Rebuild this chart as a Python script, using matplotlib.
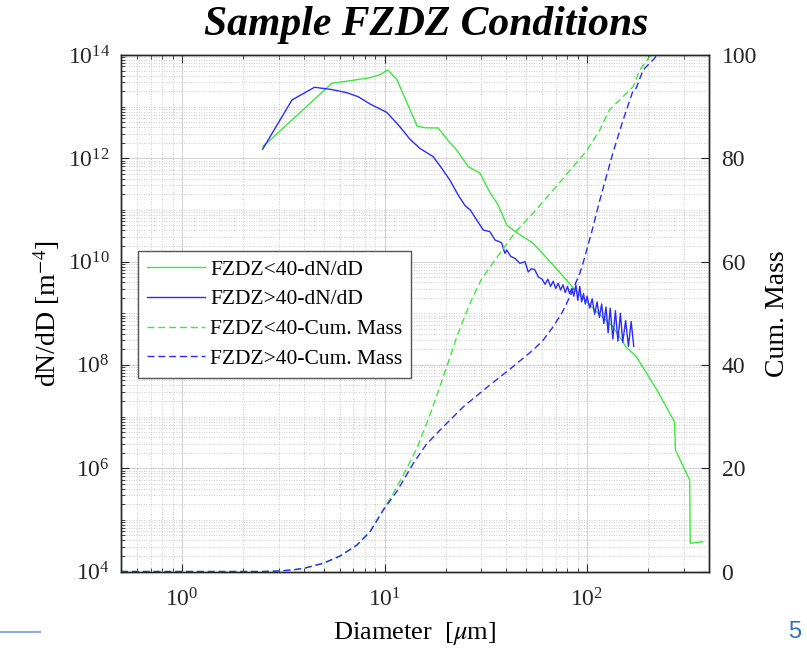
import matplotlib.pyplot as plt
import numpy as np
from matplotlib.ticker import FixedLocator, NullFormatter, LogFormatterSciNotation
from matplotlib.lines import Line2D

plt.rcParams['font.family'] = ['Liberation Serif', 'DejaVu Serif']
plt.rcParams['mathtext.fontset'] = 'stix'

# dN/dD, FZDZ<40 (green)
d_lt = [2.51, 5.49, 7.0, 8.48, 9.5, 10.37, 11.48, 14.5, 16.0, 18.4, 20.5, 22.7, 25.9, 29.6,
        33.0, 36.4, 40.1, 44.9, 54.2, 70.0, 88.7, 110, 134, 156, 175, 220, 270, 273, 321, 323, 373]
logn_lt = [12.225, 13.452, 13.51, 13.56, 13.62, 13.71, 13.53, 12.62, 12.59, 12.587, 12.35, 12.16,
           11.837, 11.71, 11.35, 11.096, 10.709, 10.56, 10.355, 9.88, 9.417, 9.05, 8.74, 8.341,
           8.16, 7.53, 6.9, 6.353, 5.77, 4.546, 4.577]

# dN/dD, FZDZ>40 (blue)
d_gt = [2.50, 3.49, 4.51, 5.5, 6.51, 7.43, 8.48, 10.25, 11.9, 13.35, 14.96, 17.4, 19.2, 21.0,
        23.0, 25.0, 26.5, 28.5, 30.7, 33.1, 35.1, 37.8, 39.3, 40.1, 42.0, 44.0, 46.6, 49.4,
        51.2, 53.0, 55.0, 57.5,
        60, 62, 64, 66, 68, 70, 72, 74, 76, 78, 80, 82, 84, 86, 88, 90, 92, 94, 96, 98,
        100, 103, 106, 109, 112, 115, 118, 121, 124, 127, 130, 134, 138, 142, 146, 150,
        155, 160, 165, 170]
logn_gt = [12.174, 13.129, 13.375, 13.33, 13.27, 13.19, 13.05, 12.89, 12.612, 12.368, 12.19,
           12.03, 11.80, 11.58, 11.30, 11.08, 11.0, 10.805, 10.612, 10.58, 10.418, 10.366,
           10.16, 10.225, 10.10, 10.064, 9.967, 9.998, 9.80, 9.86, 9.85, 9.70,
           9.66, 9.56, 9.66, 9.52, 9.62, 9.48, 9.58, 9.45, 9.55, 9.40, 9.52, 9.38, 9.48, 9.33,
           9.55, 9.25, 9.52, 9.22, 9.38, 9.18, 9.33, 9.10, 9.28, 8.98, 9.22, 8.92, 9.18, 8.80,
           9.12, 8.62, 9.10, 8.50, 9.05, 8.46, 9.00, 8.44, 8.86, 8.36, 8.84, 8.36]

# cumulative mass, FZDZ<40
dc_lt = [0.5, 2.5, 3.0, 3.5, 3.98, 4.99, 6.03, 7.29, 8.48, 9.86, 11.0, 12.5, 14.5, 17.0, 20.3,
         23.0, 26.4, 30.0, 35.1, 44.0, 54.2, 70.6, 85.0, 99.3, 115.6, 129, 145, 169, 182, 204, 211]
cum_lt = [0, 0, 0.1, 0.3, 0.6, 1.6, 3.0, 5.1, 7.7, 12.0, 15.0, 19.0, 24.0, 31.0, 39.7, 46.0,
          51.9, 56.5, 60.3, 65.6, 69.4, 74.6, 78.3, 81.4, 85.5, 89.4, 91.3, 93.9, 97.1, 99.7, 100]

# cumulative mass, FZDZ>40
dc_gt = [0.5, 2.5, 3.0, 3.5, 3.98, 4.99, 6.03, 7.29, 8.48, 9.86, 11.5, 13.9, 16.0, 18.8, 24.5,
         33.1, 43.2, 54.2, 60.7, 68, 75, 82.2, 92, 95.5, 105, 115.6, 134, 150.6, 169, 175, 189,
         216, 220]
cum_gt = [0, 0, 0.1, 0.3, 0.6, 1.6, 3.0, 5.1, 7.7, 11.9, 15.5, 21.0, 24.5, 27.4, 31.9, 36.1,
          39.7, 42.9, 44.8, 47.4, 50.0, 53.2, 57.7, 59.7, 65.5, 71.9, 81.0, 87.4, 93.2, 93.6,
          97.1, 99.4, 100]

labels = ['FZDZ<40-dN/dD', 'FZDZ>40-dN/dD', 'FZDZ<40-Cum. Mass', 'FZDZ>40-Cum. Mass']
green = '#3de83d'
blue = '#2b2bff'
axcol = '#262626'

fig = plt.figure(figsize=(8.07, 6.56), dpi=100)
ax = fig.add_axes([0.15, 0.1288, 0.7286, 0.7874])
ax2 = ax.twinx()

ax.plot(d_lt, 10 ** np.array(logn_lt), color=green, lw=1.0)
ax.plot(d_gt, 10 ** np.array(logn_gt), color=blue, lw=1.0)
ax2.plot(dc_lt, cum_lt, color=green, lw=1.0, dashes=(5, 2.8))
ax2.plot(dc_gt, cum_gt, color=blue, lw=1.0, dashes=(5, 2.8))

ax.set_xscale('log')
ax.set_yscale('log')
ax.set_xlim(0.5, 400)
ax.set_ylim(1e4, 1e14)
ax2.set_ylim(0, 100)

ax.set_yticks([10.0 ** k for k in range(4, 15, 2)])
ax.yaxis.set_major_formatter(LogFormatterSciNotation())
ymin = [m * 10.0 ** k for k in range(4, 14) for m in range(1, 10)
        if not (m == 1 and k % 2 == 0)]
ax.yaxis.set_minor_locator(FixedLocator(ymin))
ax.yaxis.set_minor_formatter(NullFormatter())
ax.set_xticks([1, 10, 100])
xmin = [m * 10.0 ** k for k in range(-1, 3) for m in range(2, 10)]
ax.xaxis.set_minor_locator(FixedLocator(xmin))
ax.xaxis.set_minor_formatter(NullFormatter())
ax2.set_yticks([0, 20, 40, 60, 80, 100])

ax.grid(True, which='major', color='#d4d4d4', lw=0.8, ls='-')
ax.grid(True, which='minor', color='#bdbdbd', lw=0.6, ls=(0, (1, 2)))

ax.tick_params(which='both', direction='in', colors=axcol, labelsize=17, top=True)
ax.tick_params(axis='y', which='major', length=6, pad=8)
ax.tick_params(axis='x', which='major', length=6, pad=12)
ax.tick_params(which='minor', length=3)
ax2.tick_params(which='both', direction='in', colors=axcol, labelsize=17, length=6, pad=9)
for a in (ax, ax2):
    for s in a.spines.values():
        s.set_color(axcol)
        s.set_linewidth(1.0)

ax.set_xlabel('Diameter  [$\\mu$m]', fontsize=19, labelpad=6)
ax.set_ylabel('dN/dD [m$^{-4}$]', fontsize=20, labelpad=4)
ax2.set_ylabel('Cum. Mass', fontsize=20, labelpad=6)

handles = [Line2D([], [], color=green, lw=1.0),
           Line2D([], [], color=blue, lw=1.0),
           Line2D([], [], color=green, lw=1.0, dashes=(5, 2.8)),
           Line2D([], [], color=blue, lw=1.0, dashes=(5, 2.8))]
leg = ax2.legend(handles, labels, loc='upper left', bbox_to_anchor=(0.029, 0.6205),
                 borderaxespad=0, fontsize=15.5, fancybox=False, framealpha=1,
                 edgecolor='#555555', labelspacing=0.45, handlelength=2.7,
                 handletextpad=0.25, borderpad=0.4)
leg.get_frame().set_linewidth(1.0)

fig.text(0.528, 0.962, 'Sample FZDZ Conditions', ha='center', va='center',
         fontsize=30, fontweight='bold', fontstyle='italic', family='Liberation Serif')

# slide decorations
fig.add_artist(Line2D([0, 0.05], [0.036, 0.036], color='#8faadc', lw=1.5))
fig.text(0.985, 0.036, '5', ha='center', va='center', fontsize=17, color='#2e75b6',
         family='Liberation Sans')

plt.savefig('out.png', dpi=100)
